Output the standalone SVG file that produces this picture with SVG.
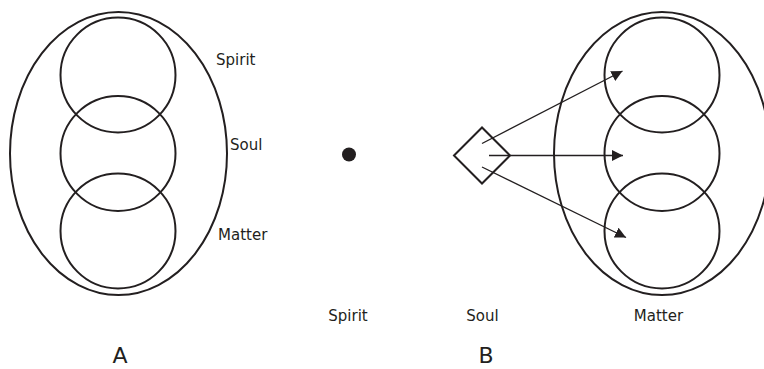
<svg xmlns="http://www.w3.org/2000/svg" width="764" height="369" viewBox="0 0 764 369">
<style>
.s{fill:none;stroke:#231f20;stroke-width:2}
.c{fill:none;stroke:#231f20;stroke-width:1.3}
text{font-family:"DejaVu Sans",sans-serif;font-size:15px;fill:#231f20}
.big{font-size:22px}
</style>
<defs>
<marker id="ah" markerUnits="userSpaceOnUse" markerWidth="12" markerHeight="12" viewBox="0 0 12 12" refX="11" refY="6" orient="auto">
<path d="M0,0.5 L11,6 L0,11.5 z" fill="#231f20"/>
</marker>
</defs>
<rect width="764" height="369" fill="#fff"/>
<g id="diagramA">
<ellipse class="s" cx="118.5" cy="153.5" rx="108.5" ry="141.5"/>
<circle class="s" cx="118" cy="75" r="57.5"/>
<circle class="s" cx="118" cy="153.5" r="57.5"/>
<circle class="s" cx="118" cy="231" r="57.5"/>
<text x="216" y="65">Spirit</text>
<text x="230" y="150">Soul</text>
<text x="218" y="240">Matter</text>
<text class="big" x="120" y="363" text-anchor="middle">A</text>
</g>
<g id="spirit">
<circle cx="349" cy="154.5" r="7" fill="#231f20"/>
<text x="348" y="321" text-anchor="middle">Spirit</text>
</g>
<g id="soul">
<polygon class="s" points="454,155.5 482,127.5 510,155.5 482,183.5"/>
<text x="482.5" y="321" text-anchor="middle">Soul</text>
</g>
<g id="matter">
<ellipse class="s" cx="662" cy="153.5" rx="108" ry="141.5"/>
<circle class="s" cx="662" cy="75" r="57.5"/>
<circle class="s" cx="662" cy="153.5" r="57.5"/>
<circle class="s" cx="662" cy="231" r="57.5"/>
<text x="658.5" y="321" text-anchor="middle">Matter</text>
</g>
<text class="big" x="486" y="363" text-anchor="middle">B</text>
<g id="connectors">
<line class="c" x1="482" y1="143.5" x2="622.5" y2="71" marker-end="url(#ah)"/>
<line class="c" x1="489" y1="155.5" x2="623" y2="155.5" marker-end="url(#ah)"/>
<line class="c" x1="482" y1="167" x2="626" y2="237.5" marker-end="url(#ah)"/>
</g>
</svg>
